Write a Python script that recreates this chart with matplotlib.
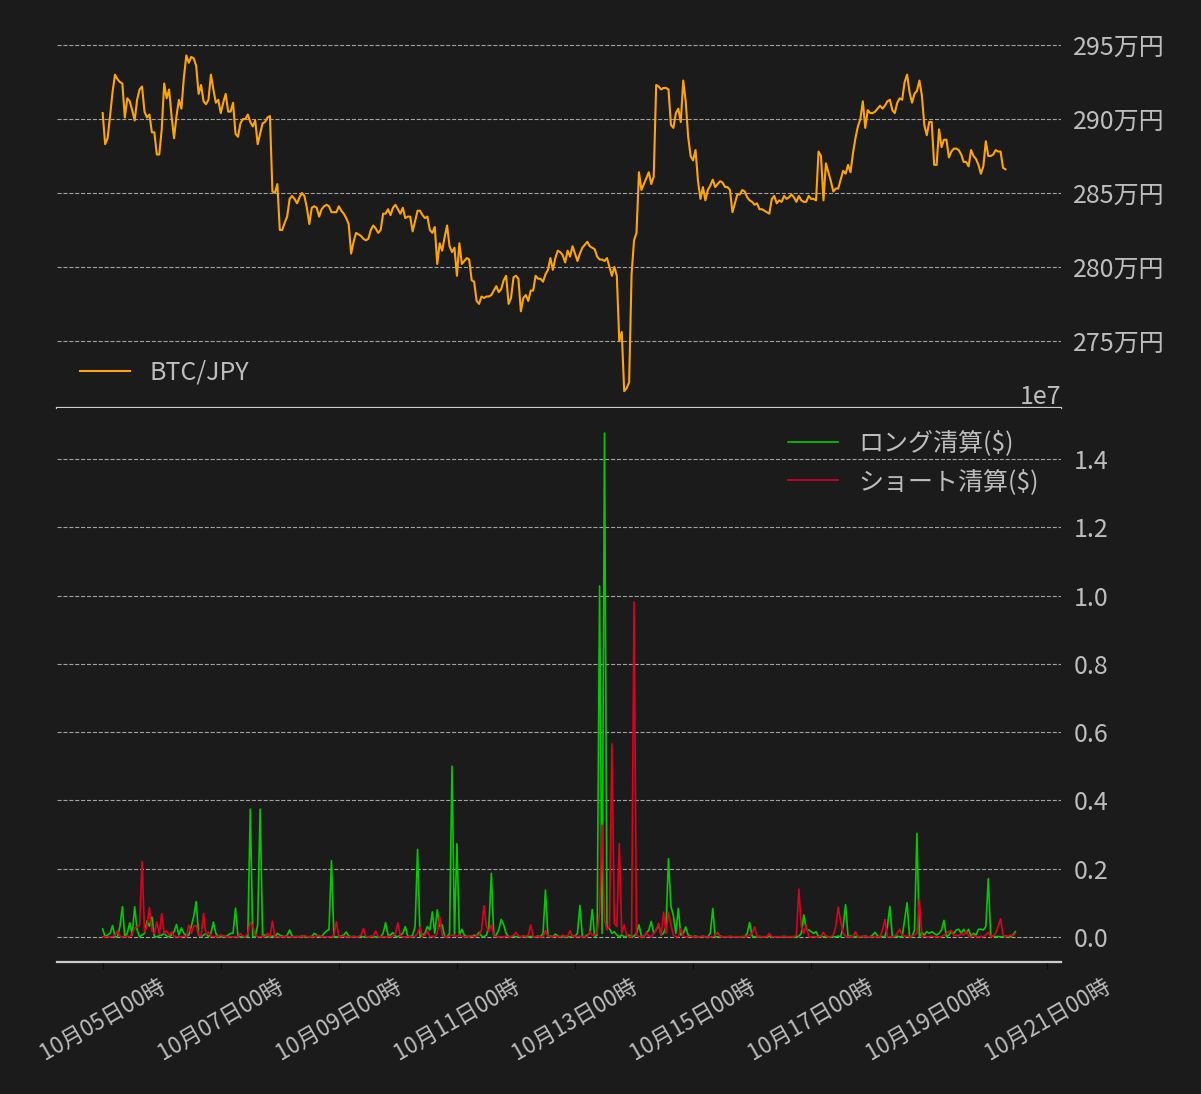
import matplotlib
matplotlib.use('Agg')
import matplotlib.pyplot as plt
import matplotlib.dates as mdates
import matplotlib.ticker as ticker
import numpy as np
import pandas as pd

plt.rcParams['font.family'] = ['Noto Sans CJK JP', 'DejaVu Sans']

# hourly data starting 2022-10-05 00:00 (JST)
start = '2022-10-05 00:00'

# BTC/JPY close, in 万円 (one row = one day)
price_man = [
    290.4, 288.3, 288.7, 290.2, 291.8, 293.0, 292.7, 292.5, 292.4, 290.1, 291.4, 291.2, 290.6, 289.9, 291.3, 292.0, 292.2, 290.5, 290.1, 290.3, 289.1, 289.1, 287.6, 287.6,
    289.3, 292.4, 291.4, 292.0, 290.2, 288.7, 290.2, 291.3, 290.7, 292.8, 294.3, 293.8, 294.2, 294.1, 293.6, 291.7, 292.3, 291.2, 291.0, 291.3, 293.0, 292.0, 291.1, 291.3,
    290.4, 291.1, 291.7, 290.5, 290.5, 291.1, 289.0, 288.8, 289.7, 290.0, 290.0, 290.3, 289.8, 289.5, 289.9, 288.3, 289.0, 289.7, 289.8, 290.1, 290.2, 285.1, 285.0, 285.6,
    282.5, 282.5, 283.0, 283.4, 284.6, 284.8, 284.6, 284.3, 284.7, 285.0, 284.8, 284.0, 282.9, 284.0, 284.1, 284.0, 283.4, 283.9, 284.1, 284.2, 284.1, 283.7, 283.7, 283.7,
    284.1, 283.8, 283.6, 283.3, 282.9, 280.9, 281.7, 282.3, 282.2, 282.1, 281.9, 281.8, 281.9, 282.5, 282.8, 282.6, 282.3, 282.5, 283.6, 283.6, 283.9, 283.5, 284.0, 284.2,
    283.9, 283.6, 284.0, 283.3, 283.4, 283.4, 282.4, 283.1, 283.8, 283.8, 283.5, 283.3, 283.4, 282.5, 282.3, 282.7, 280.2, 281.6, 281.1, 282.0, 282.8, 281.4, 281.0, 281.3,
    279.4, 281.6, 280.2, 280.4, 280.6, 280.5, 279.1, 279.0, 277.7, 277.5, 278.0, 277.9, 278.0, 278.0, 278.1, 278.4, 278.7, 278.3, 278.5, 279.1, 279.4, 277.5, 277.9, 279.3,
    279.4, 279.2, 277.0, 277.9, 278.1, 277.7, 278.4, 278.4, 279.4, 279.2, 279.2, 279.0, 279.5, 279.8, 280.6, 279.8, 280.6, 281.1, 281.0, 280.8, 280.3, 281.1, 280.7, 281.4,
    280.9, 280.4, 280.9, 281.3, 281.5, 281.7, 281.4, 281.3, 281.2, 280.7, 280.5, 280.5, 280.4, 280.6, 280.0, 279.4, 280.0, 279.4, 275.0, 275.6, 271.6, 271.8, 272.2, 279.5,
    281.8, 282.3, 286.4, 285.2, 285.6, 286.0, 286.4, 285.6, 286.1, 292.3, 292.2, 292.0, 292.1, 292.1, 292.0, 289.6, 289.4, 290.4, 290.7, 289.8, 292.6, 291.2, 288.8, 287.5,
    287.2, 287.9, 285.8, 284.6, 285.4, 284.5, 285.2, 285.5, 285.9, 285.4, 285.6, 285.8, 285.7, 285.4, 285.4, 285.2, 283.7, 284.3, 284.9, 284.9, 285.2, 285.1, 284.7, 284.5,
    284.4, 284.2, 284.3, 283.9, 283.9, 283.8, 283.7, 283.6, 284.6, 284.8, 284.3, 284.5, 284.4, 284.8, 284.6, 284.7, 284.9, 284.7, 284.4, 284.8, 284.5, 284.4, 284.4, 284.8,
    284.6, 284.6, 284.5, 287.8, 287.5, 284.5, 287.0, 286.4, 285.8, 285.1, 285.3, 285.3, 285.9, 286.5, 286.3, 286.9, 286.4, 287.7, 288.7, 289.5, 290.0, 291.2, 289.4, 290.6,
    290.4, 290.4, 290.5, 290.7, 290.9, 290.7, 290.9, 291.2, 291.3, 290.6, 290.4, 291.1, 291.4, 291.3, 292.5, 293.0, 291.8, 291.1, 291.7, 291.9, 292.6, 291.6, 289.6, 288.9,
    289.8, 289.8, 286.9, 286.9, 289.3, 288.1, 288.6, 288.6, 287.4, 287.8, 288.0, 288.0, 287.9, 287.6, 287.1, 287.1, 286.8, 287.9, 287.5, 287.3, 286.9, 286.3, 286.8, 288.5,
    287.5, 287.5, 287.6, 287.9, 287.8, 287.8, 286.7, 286.6,
]

# long liquidations, million USD per hour
long_musd = [
    0.23, 0, 0.05, 0.1, 0.33, 0, 0, 0.3, 0.88, 0, 0.1, 0.41, 0.05, 0.88, 0.2, 0, 0.05, 0.1, 0.46, 0.31, 0.58, 0, 0, 0.03,
    0.05, 0.1, 0.02, 0, 0.05, 0.15, 0.36, 0.05, 0.26, 0.1, 0.03, 0.05, 0.3, 0.6, 1.03, 0.05, 0, 0.05, 0.1, 0, 0.1, 0.43, 0.1, 0,
    0, 0.02, 0, 0.05, 0.1, 0.1, 0.84, 0, 0, 0, 0, 0, 3.74, 0, 0, 0.35, 3.74, 0.05, 0.05, 0, 0, 0.02, 0, 0.1,
    0.05, 0.02, 0, 0.05, 0.2, 0.02, 0, 0.01, 0, 0.02, 0, 0, 0, 0.01, 0.1, 0.05, 0, 0, 0.1, 0.17, 0.21, 2.23, 0, 0,
    0, 0.02, 0.05, 0.14, 0.02, 0, 0.01, 0, 0, 0.02, 0, 0, 0, 0.01, 0, 0, 0, 0, 0.1, 0.41, 0.05, 0.05, 0.12, 0.02,
    0, 0.05, 0.1, 0.3, 0.02, 0, 0.05, 0.3, 2.56, 0, 0.05, 0.1, 0.3, 0.2, 0.73, 0.1, 0.79, 0.3, 0.35, 0, 0, 0.1, 5.0, 0.08,
    2.73, 0.05, 0.22, 0.05, 0, 0.02, 0, 0.05, 0.02, 0.13, 0.02, 0, 0.05, 0.3, 1.86, 0, 0.05, 0.2, 0.51, 0.35, 0.1, 0, 0, 0.02,
    0, 0.01, 0, 0.02, 0, 0, 0.01, 0, 0, 0.02, 0, 0.1, 1.37, 0, 0.02, 0, 0.08, 0.02, 0, 0, 0.01, 0, 0, 0.02,
    0.02, 0.1, 0.92, 0, 0, 0.05, 0.1, 0.8, 0, 0.05, 10.28, 0.1, 14.76, 0.3, 0.24, 0.1, 0.15, 0.05, 0, 0.05, 0, 0.02, 0.05, 0,
    0.02, 0.1, 0.35, 0.02, 0, 0.1, 0.2, 0.45, 0.1, 0.2, 0.35, 0.05, 0.1, 0.3, 2.29, 0.89, 0.62, 0.1, 0.83, 0.05, 0.1, 0.29, 0.05, 0.02,
    0, 0.02, 0, 0, 0.01, 0, 0, 0.1, 0.83, 0, 0, 0.02, 0, 0, 0, 0.01, 0, 0, 0, 0, 0, 0, 0.1, 0.42,
    0.02, 0, 0, 0.01, 0, 0, 0, 0.02, 0, 0, 0, 0, 0, 0.01, 0, 0, 0, 0, 0, 0.02, 0.1, 0.64, 0.22, 0.2,
    0.15, 0.1, 0.15, 0, 0.02, 0, 0.01, 0, 0, 0, 0, 0.02, 0, 0.3, 0.94, 0, 0.02, 0, 0, 0.01, 0, 0, 0.02, 0,
    0, 0.05, 0.13, 0.02, 0, 0.01, 0, 0.3, 0.89, 0, 0, 0.02, 0, 0, 0.5, 1.0, 0, 0, 0.2, 3.03, 0, 0.13, 0.05, 0.15,
    0.1, 0.15, 0.1, 0.05, 0.1, 0.2, 0.48, 0, 0.05, 0.15, 0.1, 0.2, 0.22, 0.1, 0.22, 0.1, 0.22, 0, 0.1, 0.05, 0.22, 0.22, 0.2, 0.3,
    1.7, 0, 0.02, 0, 0.01, 0, 0, 0.02, 0, 0, 0.05, 0.15,
]

# short liquidations, million USD per hour
short_musd = [
    0, 0, 0, 0, 0, 0.05, 0.17, 0.02, 0, 0, 0.02, 0, 0.1, 0.26, 0.29, 0.33, 2.21, 0.14, 0.3, 0.85, 0.17, 0.1, 0.44, 0.07,
    0.68, 0.1, 0.17, 0.05, 0.14, 0.02, 0, 0, 0, 0.02, 0, 0.34, 0.1, 0.31, 0.33, 0.05, 0.02, 0.68, 0.05, 0.14, 0.02, 0, 0.02, 0,
    0.06, 0.02, 0, 0, 0, 0, 0, 0, 0.09, 0.02, 0, 0.1, 0.43, 0.31, 0.05, 0, 0, 0.02, 0, 0.1, 0, 0.46, 0, 0,
    0, 0, 0, 0.02, 0, 0, 0, 0, 0, 0, 0.04, 0, 0, 0, 0, 0.02, 0.04, 0, 0, 0, 0, 0, 0.05, 0.44,
    0, 0, 0.02, 0, 0, 0, 0, 0, 0, 0.05, 0.24, 0, 0, 0, 0.02, 0.17, 0, 0, 0, 0, 0, 0, 0.02, 0.1,
    0.41, 0.02, 0, 0, 0, 0, 0, 0.02, 0.1, 0.28, 0, 0.05, 0.17, 0, 0.02, 0, 0.1, 0.6, 0.05, 0, 0, 0.02, 0.05, 0.02,
    0.02, 0.05, 0.02, 0, 0, 0.02, 0.03, 0, 0.02, 0.05, 0.2, 0.91, 0.3, 0.15, 0.35, 0.02, 0, 0, 0, 0, 0.02, 0, 0, 0.05,
    0.13, 0.02, 0, 0.02, 0, 0.05, 0.35, 0, 0, 0.02, 0, 0, 0.18, 0.02, 0, 0, 0.02, 0, 0, 0.05, 0, 0.02, 0.18, 0,
    0.02, 0, 0.02, 0, 0, 0, 0.15, 0.05, 0.05, 0.1, 0.72, 3.27, 0.5, 0.2, 0.3, 5.65, 0.4, 0.3, 2.73, 0.1, 0.35, 0.05, 0, 0,
    9.81, 0.05, 0, 0, 0, 0.13, 0.02, 0, 0.1, 0.2, 0.4, 0.05, 0.72, 0.1, 0.72, 0.35, 0.05, 0, 0, 0.24, 0.02, 0, 0, 0.02,
    0, 0, 0, 0, 0.02, 0, 0, 0, 0, 0.05, 0.13, 0, 0, 0, 0, 0, 0, 0, 0, 0, 0, 0.02, 0, 0.05,
    0.1, 0.29, 0, 0, 0, 0, 0, 0.1, 0, 0, 0, 0, 0, 0, 0, 0, 0, 0, 0.05, 1.4, 0.3, 0.1, 0.35, 0,
    0, 0, 0, 0, 0.02, 0.13, 0.02, 0, 0, 0.05, 0.3, 0.87, 0.45, 0.1, 0.02, 0, 0, 0, 0.15, 0, 0, 0.02, 0, 0,
    0, 0, 0, 0, 0, 0.2, 0.51, 0, 0, 0, 0.02, 0.1, 0.22, 0.05, 0.02, 0.02, 0, 0.02, 0.05, 0.1, 1.1, 0, 0.02, 0,
    0, 0.02, 0, 0, 0, 0, 0.05, 0.1, 0.15, 0.18, 0.02, 0.05, 0.02, 0.1, 0.05, 0.18, 0.02, 0, 0.05, 0, 0, 0.02, 0, 0.05,
    0.13, 0, 0.02, 0.1, 0.3, 0.53, 0.05, 0, 0.02, 0.05, 0.02, 0.1,
]

price_time = pd.date_range(start, periods=len(price_man), freq='h')
liq_time = pd.date_range(start, periods=len(long_musd), freq='h')
price = np.array(price_man) * 1e4
long_usd = np.array(long_musd) * 1e6
short_usd = np.array(short_musd) * 1e6

bg = '#1b1b1b'
fg = '#bdbdbd'

fig = plt.figure(figsize=(12.01, 10.94), dpi=100, facecolor=bg)
gs = fig.add_gridspec(2, 1, height_ratios=[2, 3], hspace=0,
                      left=0.0475, right=0.8834, top=0.9647, bottom=0.1207)
ax1 = fig.add_subplot(gs[0])
ax2 = fig.add_subplot(gs[1], sharex=ax1)

ax1.plot(price_time, price, color='#ffa500', lw=1.5, label='BTC/JPY')
ax2.plot(liq_time, long_usd, color='#00cc00', lw=1.2, label='ロング清算($)')
ax2.plot(liq_time, short_usd, color='#dd0022', lw=1.2, label='ショート清算($)')

for ax in (ax1, ax2):
    ax.set_facecolor(bg)
    for side in ('left', 'right', 'top'):
        ax.spines[side].set_visible(False)
    ax.spines['bottom'].set_color('#cccccc')
    ax.spines['bottom'].set_linewidth(1.6)
    ax.yaxis.tick_right()
    ax.tick_params(axis='y', length=0, pad=9, labelsize=18, labelcolor=fg)
    ax.grid(axis='y', ls='--', lw=0.8, color='#bbbbbb', alpha=0.85)
    ax.grid(axis='x', visible=False)

ax1.yaxis.set_major_locator(ticker.MultipleLocator(50000))
ax1.yaxis.set_major_formatter(ticker.FuncFormatter(lambda v, p: f'{v / 1e4:.0f}万円'))
ax1.tick_params(axis='x', length=0, labelbottom=False)

ax2.yaxis.set_major_locator(ticker.MultipleLocator(2e6))
ax2.yaxis.get_offset_text().set_fontsize(18)
ax2.yaxis.get_offset_text().set_color(fg)

ax2.xaxis.set_major_locator(mdates.DayLocator(bymonthday=range(1, 32, 2)))
ax2.xaxis.set_major_formatter(mdates.DateFormatter('%m月%d日%H時'))
ax2.tick_params(axis='x', length=5, color='#0a0a0a', labelsize=16, labelcolor=fg, pad=4)
for lbl in ax2.get_xticklabels():
    lbl.set_rotation(30)
    lbl.set_ha('center')

ax1.legend(loc='lower left', frameon=False, fontsize=18, labelcolor=fg)
ax2.legend(loc='upper right', frameon=False, fontsize=18, labelcolor=fg)

fig.savefig('out.png', dpi=100, facecolor=bg)
